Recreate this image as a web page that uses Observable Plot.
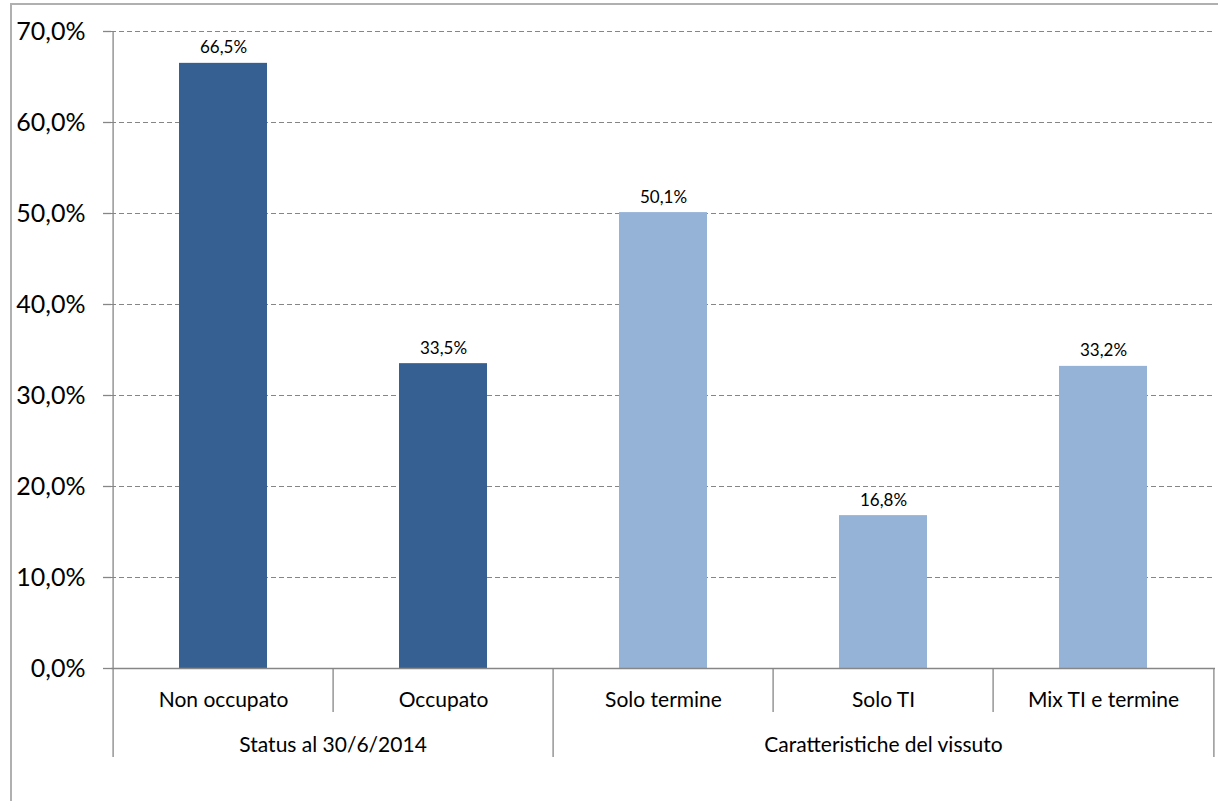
<!DOCTYPE html>
<html>
<head>
<meta charset="utf-8">
<script src="https://cdn.jsdelivr.net/npm/d3@7"></script>
<script src="https://cdn.jsdelivr.net/npm/@observablehq/plot@0.6"></script>
<style>
  html, body { margin: 0; padding: 0; background: #fff; overflow: hidden; }
  #wrap { position: relative; width: 1218px; height: 801px; }
  #border { position: absolute; left: 10px; top: 3px; width: 1300px; height: 900px; border-top: 2px solid #b0b0b0; border-left: 2px solid #b0b0b0; pointer-events: none; }
  svg { display: block; }
</style>
</head>
<body>
<div id="wrap"><div id="border"></div></div>
<script>
const categories = ["Non occupato", "Occupato", "Solo termine", "Solo TI", "Mix TI e termine"];
const values = [0.665, 0.335, 0.501, 0.168, 0.332];
const groups = ["Status", "Status", "Vissuto", "Vissuto", "Vissuto"];
const groupLabels = ["Status al 30/6/2014", "Caratteristiche del vissuto"];
const yTicks = [0, 0.1, 0.2, 0.3, 0.4, 0.5, 0.6, 0.7];
const colors = {Status: "#376092", Vissuto: "#95B3D7"};

const data = categories.map((c, i) => ({cat: c, value: values[i], group: groups[i]}));

const W = 1218, H = 801;
const mL = 111, mR = 3, mT = 31, mB = 133;
const step = (W - mL - mR) / categories.length;
const plotW = W - mL - mR;
const plotH = H - mT - mB;
const fmtPct = d => (d * 100).toFixed(1).replace(".", ",") + "%";
const font = "Lato, 'Open Sans', sans-serif";
const axisColor = "#868686";

const shortSeps = ["Occupato", "Solo TI", "Mix TI e termine"];
const longSepsLeft = ["Solo termine"];
const longSepsRight = ["Mix TI e termine"];

const chart = Plot.plot({
  width: W,
  height: H,
  marginLeft: mL,
  marginRight: mR,
  marginTop: mT,
  marginBottom: mB,
  style: {fontFamily: font, background: "transparent", overflow: "visible"},
  x: {domain: categories, paddingInner: 0.6, paddingOuter: 0.3, axis: null},
  y: {domain: [0, 0.7], axis: null},
  color: {domain: Object.keys(colors), range: Object.values(colors)},
  marks: [
    Plot.ruleY(yTicks.filter(d => d > 0), {stroke: axisColor, strokeDasharray: "5,3", strokeWidth: 1}),
    Plot.barY(data, {x: "cat", y: "value", fill: "group"}),
    Plot.ruleY([0], {stroke: axisColor, strokeWidth: 1.3}),
    // y tick marks
    Plot.ruleY(yTicks, {stroke: axisColor, strokeWidth: 1.3, insetLeft: -8, insetRight: plotW}),
    // y tick labels
    Plot.text(yTicks, {y: d => d, text: fmtPct, frameAnchor: "left", textAnchor: "end", dx: -26, fontSize: 25, fill: "#000"}),
    // y axis line + left group separator
    Plot.ruleX(["Non occupato"], {x: d => d, dx: -step / 2, stroke: axisColor, strokeWidth: 1.3, insetBottom: -89}),
    // long separators
    Plot.ruleX(longSepsLeft, {x: d => d, dx: -step / 2, stroke: axisColor, strokeWidth: 1.3, insetTop: plotH, insetBottom: -89}),
    Plot.ruleX(longSepsRight, {x: d => d, dx: step / 2, stroke: axisColor, strokeWidth: 1.3, insetTop: plotH, insetBottom: -89}),
    // short separators
    Plot.ruleX(shortSeps, {x: d => d, dx: -step / 2, stroke: axisColor, strokeWidth: 1.3, insetTop: plotH, insetBottom: -44}),
    // value labels
    Plot.text(data, {x: "cat", y: "value", text: d => fmtPct(d.value), dy: -10, lineAnchor: "bottom", fontSize: 17, fill: "#000"}),
    // category labels
    Plot.text(data, {x: "cat", text: "cat", frameAnchor: "bottom", dy: 38, fontSize: 21, fill: "#000"}),
    // group labels
    Plot.text([groupLabels[0]], {x: () => "Occupato", text: d => d, dx: -step / 2, frameAnchor: "bottom", dy: 83, fontSize: 21, fill: "#000"}),
    Plot.text([groupLabels[1]], {x: () => "Solo TI", text: d => d, frameAnchor: "bottom", dy: 83, fontSize: 21, fill: "#000"})
  ]
});
document.getElementById("wrap").appendChild(chart);
</script>
</body>
</html>
